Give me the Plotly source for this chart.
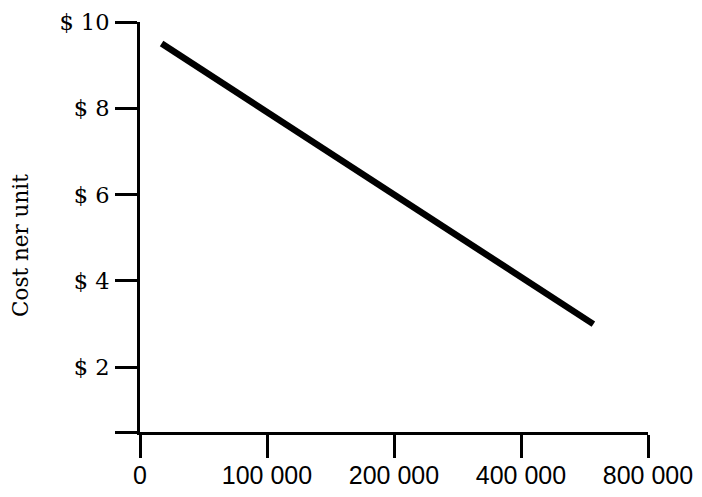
import plotly.graph_objects as go

# Ordinal x scale: tick positions and their labels
x_tick_pos = [0, 1, 2, 3, 4]
x_tick_labels = ["0", "100 000", "200 000", "400 000", "800 000"]

# y ticks (0.5 = bottom of axis, unlabeled)
y_tick_vals = [0.5, 2, 4, 6, 8, 10]
y_tick_labels = ["", "$ 2", "$ 4", "$ 6", "$ 8", "$ 10"]

# Cost line, x given as position on the ordinal volume scale
line_x = [0.17, 3.57]
line_y = [9.5, 3.0]

fig = go.Figure()
fig.add_trace(go.Scatter(x=line_x, y=line_y, mode="lines",
                         line=dict(color="black", width=6.5),
                         hoverinfo="skip", showlegend=False))

fig.update_layout(
    width=702, height=497,
    margin=dict(l=132, r=62, t=14, b=73, autoexpand=False),
    paper_bgcolor="white", plot_bgcolor="white",
    xaxis=dict(range=[0, 4], tickvals=x_tick_pos, ticktext=x_tick_labels,
               showline=True, linecolor="black", linewidth=3,
               ticks="outside", ticklen=23, tickwidth=3, tickcolor="black",
               showgrid=False, zeroline=False, ticklabelstandoff=-4,
               automargin=False,
               tickfont=dict(family="Liberation Sans", size=25, color="black")),
    yaxis=dict(range=[0.5, 10], tickvals=y_tick_vals, ticktext=y_tick_labels,
               showline=True, linecolor="black", linewidth=3,
               ticks="outside", ticklen=22, tickwidth=3, tickcolor="black",
               showgrid=False, zeroline=False, ticklabelstandoff=1,
               automargin=False,
               tickfont=dict(family="DejaVu Serif", size=22.5, color="black")),
    annotations=[dict(text="Cost ner unit", textangle=-90, showarrow=False,
                      xref="paper", yref="paper", x=-0.234, y=0.454,
                      xanchor="center", yanchor="middle",
                      font=dict(family="DejaVu Serif", size=21.5, color="black"))],
)

fig.write_html("out.html")
